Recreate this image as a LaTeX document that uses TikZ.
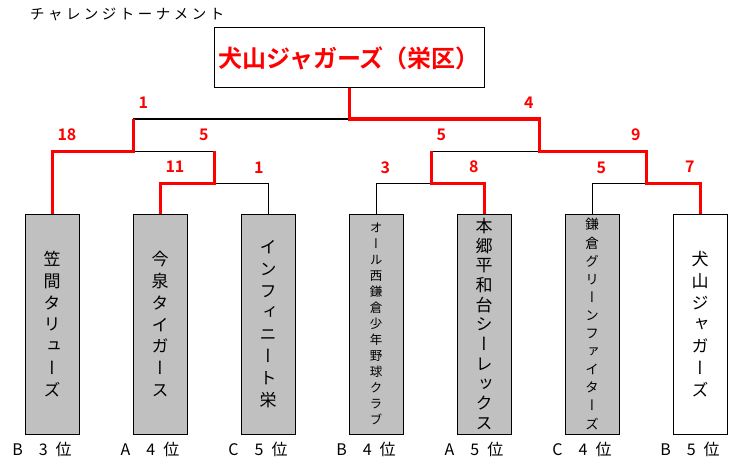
\documentclass[tikz,border=0pt]{standalone}
\usepackage{fontspec}
\usetikzlibrary{positioning}
\newfontfamily\jpfont{Noto Sans CJK JP}[BoldFont={Noto Sans CJK JP Bold}]
\newfontfamily\tatefont{Noto Sans CJK JP}[RawFeature=+vert]
\newfontfamily\titlefont{Noto Sans CJK JP}[LetterSpace=24]
\definecolor{boxgray}{HTML}{C0C0C0}

\begin{document}
\begin{tikzpicture}[x=1pt, y=-1pt, node distance=54pt,
        team/.style={draw, fill=boxgray, line width=1pt, outer sep=0pt, minimum width=54pt, minimum height=220pt, inner sep=0pt, align=center, font=\tatefont\fontsize{17}{21.8}\selectfont},
        champ/.style={draw, line width=1pt, outer sep=0pt, minimum width=270pt, minimum height=60pt, inner sep=2pt, text=red, font=\jpfont\bfseries\fontsize{24}{24}\selectfont},
        win/.style={red, line width=3pt},
        lose/.style={black, line width=1pt},
        score/.style={text=red, inner sep=0pt, font=\jpfont\bfseries\fontsize{16}{16}\selectfont},
        rank/.style={inner sep=0pt, font=\jpfont\fontsize{16}{16}\selectfont}]
        \useasboundingbox (0,0) rectangle (746,468);

        \node[anchor=west, inner sep=0pt, font=\titlefont\fontsize{14.5}{14.5}\selectfont] (title) at (30,14) {チャレンジトーナメント};
        \node[champ] (champ) at (349,58) {犬山ジャガーズ（栄区）};

        % teams
        \node[team] (t1) at (52,324) {笠\\間\\タ\\リ\\ュ\\ー\\ズ};
        \node[team] (t2) [right=of t1] {今\\泉\\タ\\イ\\ガ\\ー\\ス};
        \node[team, font=\tatefont\fontsize{17}{21.9}\selectfont] (t3) [right=of t2] {イ\\ン\\フ\\ィ\\ニ\\ー\\ト\\栄};
        \node[team, font=\tatefont\fontsize{12.5}{16}\selectfont] (t4) [right=of t3] {オ\\ー\\ル\\西\\鎌\\倉\\少\\年\\野\\球\\ク\\ラ\\ブ};
        \node[team, font=\tatefont\fontsize{17}{19.7}\selectfont] (t5) [right=of t4] {本\\郷\\平\\和\\台\\シ\\ー\\レ\\ッ\\ク\\ス};
        \node[team, font=\tatefont\fontsize{13.5}{18.1}\selectfont] (t6) [right=of t5] {鎌\\倉\\グ\\リ\\ー\\ン\\フ\\ァ\\イ\\タ\\ー\\ズ};
        \node[team, fill=white] (t7) [right=of t6] {犬\\山\\ジ\\ャ\\ガ\\ー\\ズ};

        \node[rank, below=8pt of t1.south, xshift=-10pt] (r1) {B　3\enspace 位};
        \node[rank, below=8pt of t2.south, xshift=-10pt] (r2) {A　4\enspace 位};
        \node[rank, below=8pt of t3.south, xshift=-10pt] (r3) {C　5\enspace 位};
        \node[rank, below=8pt of t4.south, xshift=-10pt] (r4) {B　4\enspace 位};
        \node[rank, below=8pt of t5.south, xshift=-10pt] (r5) {A　5\enspace 位};
        \node[rank, below=8pt of t6.south, xshift=-10pt] (r6) {C　4\enspace 位};
        \node[rank, below=8pt of t7.south, xshift=-10pt] (r7) {B　5\enspace 位};

        % matches
        \coordinate (F) at (349,119);
        \coordinate (A) at (133,151);
        \coordinate (E) at (539,151);
        \coordinate (B) at (214,183);
        \coordinate (C) at (431,183);
        \coordinate (D) at (646,183);

        \draw[lose] (t3.north) |- node[score, above left=9pt and 4pt] {1} (B);
        \draw[lose] (t4.north) |- node[score, above right=9pt and 4pt] {3} (C);
        \draw[lose] (t6.north) |- node[score, above right=9pt and 4pt] {5} (D);
        \draw[lose] (B |- A) -- (A);
        \draw[lose] (C |- E) -- (E);
        \draw[lose] (A |- F) -- (F);

        \draw[win] (t1.north) |- node[score, above right=9pt and 4pt] {18} (A) -- (A |- F) node[score, above right=9pt and 4pt] {1};
        \draw[win] (t2.north) |- node[score, above right=9pt and 4pt] {11} (B) -- (B |- A) node[score, above left=9pt and 4pt] {5};
        \draw[win] (t5.north) |- node[score, above left=9pt and 4pt] {8} (C) -- (C |- E) node[score, above right=9pt and 4pt] {5};
        \draw[win] (t7.north) |- node[score, above left=9pt and 4pt] {7} (D) |- node[score, above left=9pt and 4pt] {9} (E) |- node[score, above left=9pt and 4pt] {4} (F) -- (champ.south);
    \end{tikzpicture}
\end{document}
